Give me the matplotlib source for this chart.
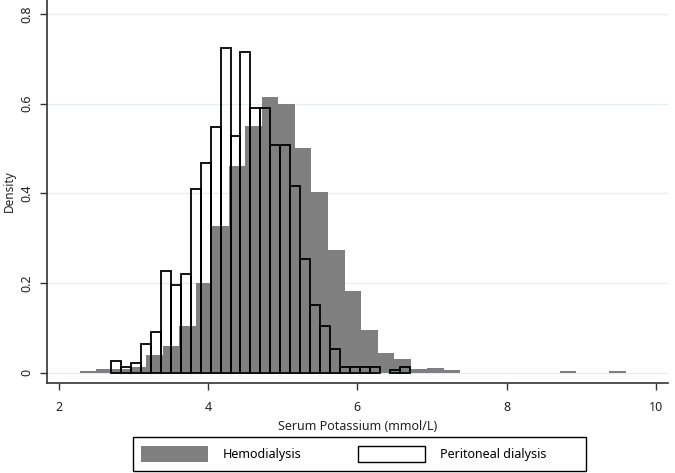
import matplotlib
matplotlib.use("Agg")
import matplotlib.pyplot as plt
from matplotlib.patches import Patch, Rectangle
import numpy as np

# histogram densities
hemo_start = 2.28
hemo_width = 0.2218
hemo = [0.004, 0.008, 0.009, 0.013, 0.039, 0.060, 0.104, 0.201, 0.327, 0.461,
        0.551, 0.614, 0.600, 0.501, 0.403, 0.273, 0.183, 0.095, 0.045, 0.031,
        0.008, 0.010, 0.005, 0, 0, 0, 0, 0, 0, 0.004, 0, 0, 0.004]

pd_start = 2.7
pd_width = 0.13333
perit = [0.027, 0.013, 0.021, 0.065, 0.091, 0.227, 0.195, 0.221, 0.410, 0.468,
         0.547, 0.723, 0.527, 0.715, 0.591, 0.591, 0.507, 0.507, 0.417, 0.254,
         0.150, 0.104, 0.052, 0.012, 0.012, 0.012, 0.012, 0.0, 0.006, 0.013]

xticks = [2, 4, 6, 8, 10]
yticks = [0, 0.2, 0.4, 0.6, 0.8]

plt.rcParams['font.family'] = ['Noto Sans', 'DejaVu Sans']

fig = plt.figure(figsize=(6.75, 4.73), dpi=100)
ax = fig.add_axes([47/675, 1 - 383/473, 621/675, 383/473])

for y in yticks:
    ax.axhline(y, color='#e6eef0', lw=1.0, zorder=0)

hemo = np.array(hemo)
hx = hemo_start + np.arange(len(hemo)) * hemo_width
m = hemo > 0
ax.bar(hx[m], hemo[m], width=hemo_width, align='edge', color='#7f7f7f',
       edgecolor='none', zorder=2)

perit = np.array(perit)
px = pd_start + np.arange(len(perit)) * pd_width
m = perit > 0
ax.bar(px[m], perit[m], width=pd_width, align='edge', fill=False,
       edgecolor='black', lw=1.3, zorder=3)

ax.set_xlim(1.839, 10.165)
ax.set_ylim(-0.023, 0.831)
ax.set_xticks(xticks)
ax.set_yticks(yticks)
ax.set_xticklabels([str(t) for t in xticks])
ax.set_yticklabels(['0', '0.2', '0.4', '0.6', '0.8'], rotation=90, va='center')
ax.tick_params(axis='both', length=5, width=1, color='#333333', labelsize=9,
               labelcolor='#222222')
ax.tick_params(axis='x', pad=8)
ax.tick_params(axis='y', pad=5)

for s in ['top', 'right']:
    ax.spines[s].set_visible(False)
for s in ['left', 'bottom']:
    ax.spines[s].set_color('#333333')
    ax.spines[s].set_linewidth(1.2)

ax.set_xlabel('Serum Potassium (mmol/L)', fontsize=9, color='#222222', labelpad=4)
ax.set_ylabel('Density', fontsize=8.5, color='#222222', labelpad=3)

# legend box like Stata's
fig.patches.append(Rectangle((133/675, 2/473), 453/675, 34/473,
                             transform=fig.transFigure, fill=False,
                             edgecolor='black', lw=1.0))
handles = [Patch(facecolor='#7f7f7f', edgecolor='none', label='Hemodialysis'),
           Patch(facecolor='white', edgecolor='black', lw=1.0, label='Peritoneal dialysis')]
leg = fig.legend(handles=handles, loc='center left',
                 bbox_to_anchor=(141/675, 19/473), ncol=2, frameon=False,
                 fontsize=9, handlelength=5.35, handleheight=1.5,
                 handletextpad=1.2, columnspacing=4.5, borderpad=0,
                 borderaxespad=0)

fig.savefig('out.png', dpi=100)
